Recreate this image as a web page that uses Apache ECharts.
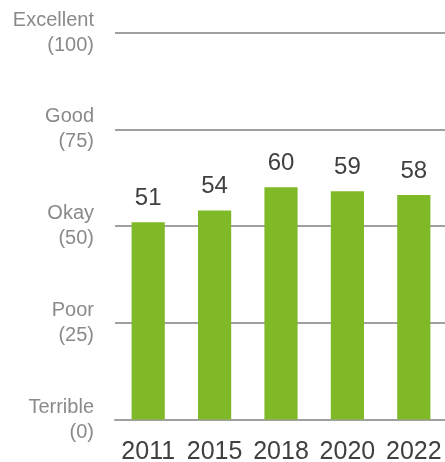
<!DOCTYPE html>
<html>
<head>
<meta charset="utf-8">
<script src="https://cdn.jsdelivr.net/npm/echarts@6/dist/echarts.min.js"></script>
<style>html,body{margin:0;padding:0;background:#fff}#c{width:445px;height:462px}</style>
</head>
<body>
<div id="c"></div>
<script>
const categories = ['2011', '2015', '2018', '2020', '2022'];
const scores = [51, 54, 60, 59, 58];
const tickLabels = { 0: 'Terrible\n(0)', 25: 'Poor\n(25)', 50: 'Okay\n(50)', 75: 'Good\n(75)', 100: 'Excellent\n(100)' };

const chart = echarts.init(document.getElementById('c'), null, { renderer: 'canvas' });
chart.setOption({
  animation: false,
  grid: { left: 115, right: -2, top: 32.5, bottom: 42.5, containLabel: false, outerBoundsMode: 'none' },
  xAxis: {
    type: 'category',
    data: categories,
    axisLine: { show: true, lineStyle: { color: '#a0a0a0', width: 2 } },
    axisTick: { show: false },
    axisLabel: { interval: 0, color: '#404040', fontSize: 25, fontFamily: 'Liberation Sans, Arial, sans-serif', margin: 20 }
  },
  yAxis: {
    type: 'value',
    min: 0, max: 100, interval: 25,
    axisLine: { show: false },
    axisTick: { show: false },
    splitLine: { show: true, lineStyle: { color: '#a0a0a0', width: 2 } },
    axisLabel: {
      color: '#8a8a8a', fontSize: 20, lineHeight: 25, align: 'right', margin: 21,
      fontFamily: 'Liberation Sans, Arial, sans-serif',
      formatter: v => tickLabels[v]
    }
  },
  series: [{
    type: 'bar',
    data: scores,
    barWidth: '50%',
    itemStyle: { color: '#80b928' },
    label: {
      show: true, position: 'top', distance: 12,
      color: '#404040', fontSize: 24, fontFamily: 'Liberation Sans, Arial, sans-serif'
    }
  }]
});
</script>
</body>
</html>
